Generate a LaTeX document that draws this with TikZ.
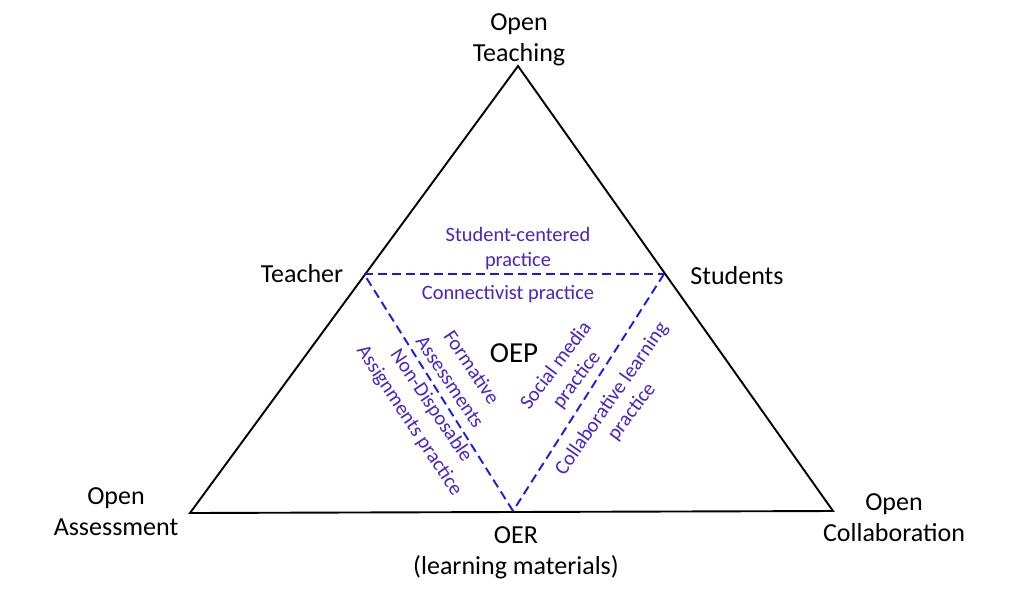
\documentclass[tikz,border=0pt]{standalone}
\usepackage{fontspec}
\setmainfont{Carlito}
\definecolor{lbl}{HTML}{4A22C8}
\definecolor{dash}{HTML}{1A1AE6}
\tikzset{
  blk/.style={inner sep=0pt,align=center,text=black,font=\fontsize{26}{31}\selectfont},
  pur/.style={inner sep=0pt,align=center,text=lbl,font=\fontsize{20.4}{25}\selectfont},
  tri/.style={draw=black,line width=1.9pt,line join=miter},
  dsh/.style={draw=dash,line width=1.9pt,dash pattern=on 9pt off 5pt}
}
\begin{document}
\begin{tikzpicture}[x=1pt,y=-1pt]
\useasboundingbox (0,0) rectangle (1024,590);
\fill[white] (0,0) rectangle (1024,590);
\coordinate (A) at (518,66);
\coordinate (B) at (190,513);
\coordinate (C) at (833,511);
\coordinate (P) at (364,274);
\coordinate (Q) at (664,274);
\coordinate (R) at (513,511);
\draw[tri] (A) -- (B) -- (C) -- cycle;
\draw[dsh] (P) -- (Q);
\draw[dsh] (Q) -- (R);
\draw[dsh] (R) -- (P);
\node[blk] (n1) at (519,40) {Open\\Teaching};
\node[blk] (n2) at (302,274) {Teacher};
\node[blk] (n3) at (737,276) {Students};
\node[blk] (n4) at (116,512) {Open\\Assessment};
\node[blk] (n5) at (894,518) {Open\\Collaboration};
\node[blk] (n6) at (516,553) {OER\\(learning materials)};
\node[blk,font=\fontsize{29}{31}\selectfont] (n7) at (514,353) {OEP};
\node[pur] (l1) at (518,249) {Student-centered\\practice};
\node[pur] (l2) at (508,294) {Connectivist practice};
\node[pur,rotate=-56] (l3) at (472,367) {Formative};
\node[pur,rotate=-56] (l4) at (450,382) {Assessments};
\node[pur,rotate=-56] (l5) at (431,406) {Non-Disposable};
\node[pur,rotate=-56.5] (l6) at (409,421) {Assignments practice};
\node[pur,rotate=53] (l7) at (555,365) {Social media};
\node[pur,rotate=53] (l8) at (577,380) {practice};
\node[pur,rotate=55] (l9) at (612,399) {Collaborative learning};
\node[pur,rotate=53] (l10) at (632,412) {practice};
\end{tikzpicture}
\end{document}
